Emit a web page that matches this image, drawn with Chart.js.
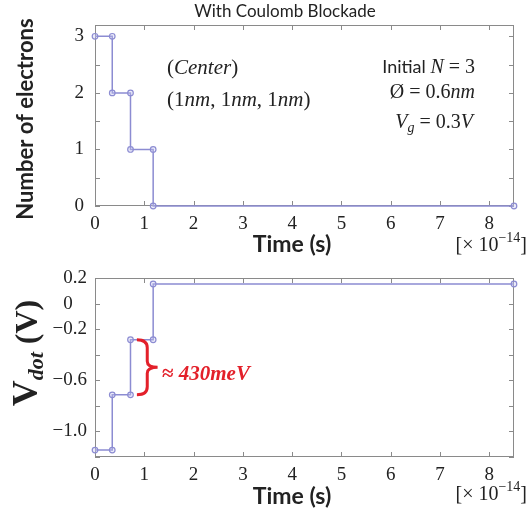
<!DOCTYPE html>
<html>
<head>
<meta charset="utf-8">
<script src="https://cdn.jsdelivr.net/npm/chart.js@4"></script>
<style>
    body { margin: 0; background: #fff; }
    #wrap { position: relative; width: 527px; height: 512px; }
    canvas { position: absolute; left: 0; }
</style>
</head>
<body>
<div id="wrap">
    <canvas id="electronChart" width="527" height="256" style="top:0"></canvas>
    <canvas id="voltageChart" width="527" height="256" style="top:256px"></canvas>
</div>
<script>
// time in units of 1e-14 s
const timePoints = [0, 0.35, 0.35, 0.72, 0.72, 1.18, 1.18, 8.5];
const electronCounts = [3, 3, 2, 2, 1, 1, 0, 0];
const dotVoltages = [-1.146, -1.146, -0.714, -0.714, -0.283, -0.283, 0.153, 0.153];

const timeTicks = [0, 1, 2, 3, 4, 5, 6, 7, 8];
const timeLabels = ['0', '1', '2', '3', '4', '5', '6', '7', '8'];
const electronTicks = [0, 0.5, 1, 1.5, 2, 2.5, 3];
const electronLabels = ['0', '', '1', '', '2', '', '3'];
const voltageTicks = [-1.2, -1.0, -0.8, -0.6, -0.4, -0.2, 0, 0.2];
const voltageLabels = ['', '\u22121.0', '', '\u22120.6', '', '\u22120.2', '0   ', '0.2'];

const LINE = '#8c8cd2';
const AXIS = '#8a8a8a';
const INK = '#222';
const RED = '#e3202a';
const SERIF = '"Liberation Serif", "DejaVu Serif", serif';
const SANS = 'Lato, "Open Sans", sans-serif';

function drawRuns(ctx, runs, x, y, align) {
    let total = 0;
    runs.forEach(([text, font]) => { ctx.font = font; total += ctx.measureText(text).width; });
    let cx = align === 'right' ? x - total : align === 'center' ? x - total / 2 : x;
    ctx.textAlign = 'left';
    ctx.textBaseline = 'alphabetic';
    runs.forEach(([text, font, dy]) => {
        ctx.font = font;
        ctx.fillText(text, cx, y + (dy || 0));
        cx += ctx.measureText(text).width;
    });
}

// box around the plot plus inward ticks on all four sides
const boxPlugin = {
    id: 'box',
    beforeDatasetsDraw(chart) {
        const { ctx, chartArea: a, scales } = chart;
        ctx.save();
        ctx.strokeStyle = AXIS;
        ctx.lineWidth = 1;
        ctx.strokeRect(a.left + 0.5, a.top + 0.5, a.width - 1, a.height - 1);
        ctx.beginPath();
        timeTicks.forEach((t) => {
            const px = Math.round(scales.x.getPixelForValue(t)) + 0.5;
            ctx.moveTo(px, a.bottom); ctx.lineTo(px, a.bottom - 5);
            ctx.moveTo(px, a.top); ctx.lineTo(px, a.top + 5);
        });
        chart.options.yTickList.forEach((v) => {
            const py = Math.round(scales.y.getPixelForValue(v)) + 0.5;
            ctx.moveTo(a.left, py); ctx.lineTo(a.left + 5, py);
            ctx.moveTo(a.right, py); ctx.lineTo(a.right - 5, py);
        });
        ctx.stroke();
        ctx.restore();
    }
};

function timeAxisTitle(ctx, baseline, unitBaseline) {
    ctx.fillStyle = INK;
    drawRuns(ctx, [['Time (s)', `bold 23px ${SANS}`]], 292, baseline, 'center');
    drawRuns(ctx, [
        ['[\u00d7 10', `20px ${SERIF}`],
        ['\u221214', `14px ${SERIF}`, -9],
        [']', `20px ${SERIF}`]
    ], 527, unitBaseline, 'right');
}

const electronText = {
    id: 'electronText',
    afterDraw(chart) {
        const { ctx } = chart;
        const it = `italic 21px ${SERIF}`;
        const rm = `21px ${SERIF}`;
        const it2 = `italic 20px ${SERIF}`;
        const rm2 = `20px ${SERIF}`;
        ctx.save();
        ctx.fillStyle = INK;
        drawRuns(ctx, [['With Coulomb Blockade', `17px ${SANS}`]], 285, 17, 'center');
        drawRuns(ctx, [['(', rm], ['Center', it], [')', rm]], 167, 74);
        drawRuns(ctx, [['(1', rm], ['nm', it], [', 1', rm], ['nm', it], [', 1', rm], ['nm', it], [')', rm]], 167, 106);
        drawRuns(ctx, [['Initial ', `18px ${SANS}`], ['N', it2], [' = 3', rm2]], 475, 73, 'right');
        drawRuns(ctx, [['\u00d8 = 0.6', rm2], ['nm', it2]], 475, 98, 'right');
        drawRuns(ctx, [['V', it2], ['g', `italic 14px ${SERIF}`, 4], [' = 0.3', rm2], ['V', it2]], 473, 128, 'right');
        timeAxisTitle(ctx, 252, 251);

        ctx.translate(33, 119);
        ctx.rotate(-Math.PI / 2);
        drawRuns(ctx, [['Number of electrons', `bold 22px ${SANS}`]], 0, 0, 'center');
        ctx.restore();
    }
};

const voltageText = {
    id: 'voltageText',
    afterDraw(chart) {
        const { ctx, scales } = chart;
        ctx.save();
        // brace spanning the step between the two middle levels
        const x0 = scales.x.getPixelForValue(0.85);
        const x1 = scales.x.getPixelForValue(1.27);
        const xm = (x0 + x1) / 2;
        const yTop = scales.y.getPixelForValue(dotVoltages[4]);
        const yBot = scales.y.getPixelForValue(dotVoltages[2]);
        const yMid = (yTop + yBot) / 2;
        ctx.strokeStyle = RED;
        ctx.lineWidth = 3;
        ctx.beginPath();
        ctx.moveTo(x0, yTop);
        ctx.quadraticCurveTo(xm, yTop, xm, yTop + 8);
        ctx.lineTo(xm, yMid - 6);
        ctx.quadraticCurveTo(xm, yMid, x1, yMid);
        ctx.quadraticCurveTo(xm, yMid, xm, yMid + 6);
        ctx.lineTo(xm, yBot - 8);
        ctx.quadraticCurveTo(xm, yBot, x0, yBot);
        ctx.stroke();

        ctx.fillStyle = RED;
        drawRuns(ctx, [['\u2248 ', `bold 21px ${SERIF}`], ['430meV', `bold italic 21px ${SERIF}`]], 162, yMid + 13);

        ctx.fillStyle = INK;
        timeAxisTitle(ctx, 248, 244);

        ctx.translate(37, 97);
        ctx.rotate(-Math.PI / 2);
        drawRuns(ctx, [
            ['V', `bold 36px ${SERIF}`],
            ['dot', `bold italic 22px ${SERIF}`, 6],
            [' (V)', `bold 32px ${SERIF}`]
        ], 0, 0, 'center');
        ctx.restore();
    }
};

function makeChart(canvasId, values, yMin, yMax, yTicks, yLabels, layout, plugin) {
    const tickFont = { family: SERIF, size: 19 };
    return new Chart(document.getElementById(canvasId), {
        type: 'line',
        data: {
            datasets: [{
                data: timePoints.map((t, i) => ({ x: t, y: values[i] })),
                borderColor: LINE,
                borderWidth: 1.5,
                pointRadius: 2.8,
                pointBorderWidth: 1.2,
                pointBorderColor: LINE,
                pointBackgroundColor: 'rgba(200,200,240,0.35)',
                tension: 0,
                clip: false
            }]
        },
        options: {
            responsive: false,
            animation: false,
            devicePixelRatio: 1,
            yTickList: yTicks,
            layout: { padding: { top: layout.top, right: 13, left: 0, bottom: 0 } },
            plugins: { legend: { display: false }, tooltip: { enabled: false } },
            scales: {
                x: {
                    type: 'linear',
                    min: 0,
                    max: 8.5,
                    grid: { display: false, drawTicks: false },
                    border: { display: false },
                    afterBuildTicks: (scale) => { scale.ticks = timeTicks.map((v) => ({ value: v })); },
                    afterFit: (scale) => { scale.height = layout.xHeight; },
                    ticks: {
                        autoSkip: false,
                        maxRotation: 0,
                        padding: layout.xPad,
                        color: INK,
                        font: tickFont,
                        callback: (value, index) => timeLabels[index]
                    }
                },
                y: {
                    min: yMin,
                    max: yMax,
                    grid: { display: false, drawTicks: false },
                    border: { display: false },
                    afterBuildTicks: (scale) => { scale.ticks = yTicks.map((v) => ({ value: v })); },
                    afterFit: (scale) => { scale.width = 95; },
                    ticks: {
                        autoSkip: false,
                        padding: layout.yPad,
                        color: INK,
                        font: tickFont,
                        callback: (value, index) => yLabels[index]
                    }
                }
            }
        },
        plugins: [boxPlugin, plugin]
    });
}

makeChart('electronChart', electronCounts, 0, 3.2, electronTicks, electronLabels,
    { top: 25, xHeight: 50, xPad: 7, yPad: 11 }, electronText);
makeChart('voltageChart', dotVoltages, -1.2, 0.2, voltageTicks, voltageLabels,
    { top: 22, xHeight: 55, xPad: 7, yPad: 8 }, voltageText);
</script>
</body>
</html>
